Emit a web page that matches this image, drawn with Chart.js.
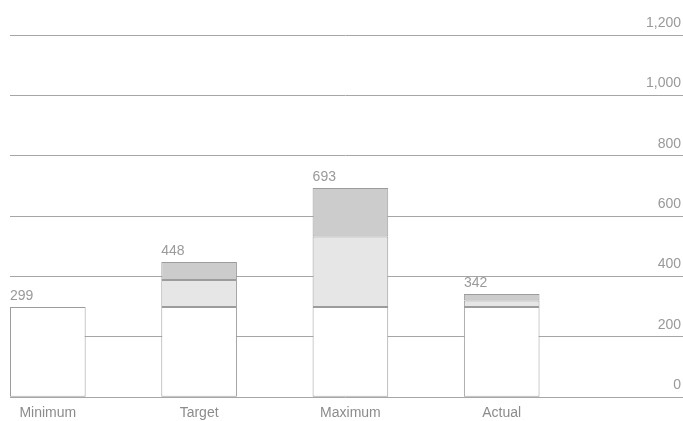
<!DOCTYPE html>
<html>
<head>
<meta charset="utf-8">
<script src="https://cdn.jsdelivr.net/npm/chart.js@4"></script>
<style>
html,body{margin:0;padding:0;background:#fff;}
#wrap{width:683px;height:421px;position:relative;}
</style>
</head>
<body>
<div id="wrap"><canvas id="c" width="683" height="421"></canvas></div>
<script>
const categories = ['Minimum', 'Target', 'Maximum', 'Actual'];
const baseValues = [299, 299, 299, 299];
const midValues = [null, 89, 233, 21];
const topValues = [null, 60, 161, 22];
const yTicks = [0, 200, 400, 600, 800, 1000, 1200];

const FONT = "'Liberation Sans', Helvetica, Arial, sans-serif";
const toPts = arr => arr.map((v, i) => ({x: i, y: v}));
const totals = categories.map((_, i) => (baseValues[i] || 0) + (midValues[i] || 0) + (topValues[i] || 0));

const totalLabels = {
  id: 'totalLabels',
  afterDatasetsDraw(chart) {
    const ctx = chart.ctx;
    const ys = chart.scales.y;
    const meta0 = chart.getDatasetMeta(0);
    ctx.save();
    ctx.font = '14px ' + FONT;
    ctx.fillStyle = '#9a9a9a';
    ctx.textAlign = 'left';
    ctx.textBaseline = 'alphabetic';
    totals.forEach((t, i) => {
      const bar = meta0.data[i];
      const left = bar.x - bar.width / 2;
      ctx.fillText(t.toLocaleString('en-US'), left, ys.getPixelForValue(t) - 7);
    });
    ctx.restore();
  }
};

const common = {borderColor: '#9c9c9c', borderWidth: 1, borderSkipped: false, categoryPercentage: 1, barPercentage: 0.5};

new Chart(document.getElementById('c'), {
  type: 'bar',
  data: {
    datasets: [
      Object.assign({label: 'Base', data: toPts(baseValues), backgroundColor: '#ffffff'}, common),
      Object.assign({label: 'Mid', data: toPts(midValues), backgroundColor: '#e6e6e6'}, common),
      Object.assign({label: 'Top', data: toPts(topValues), backgroundColor: '#cccccc'}, common)
    ]
  },
  options: {
    responsive: false,
    animation: false,
    layout: {padding: {left: 10, top: 35, right: 0, bottom: -9}},
    plugins: {legend: {display: false}, tooltip: {enabled: false}},
    scales: {
      x: {
        type: 'linear',
        stacked: true,
        offset: false,
        bounds: 'data',
        min: -0.25,
        max: 4.185,
        afterBuildTicks(scale) { scale.ticks = categories.map((_, i) => ({value: i})); },
        grid: {display: false, offset: false, drawTicks: false},
        border: {display: false},
        ticks: {
          padding: 8,
          maxRotation: 0,
          autoSkip: false,
          color: '#8c8c8c',
          font: {family: FONT, size: 14},
          callback: v => categories[v] !== undefined ? categories[v] : ''
        }
      },
      y: {
        position: 'right',
        stacked: true,
        min: 0,
        max: 1200,
        afterBuildTicks(scale) { scale.ticks = yTicks.map(v => ({value: v})); },
        grid: {color: '#a6a6a6', lineWidth: 1, drawTicks: true, tickLength: 2},
        border: {display: false},
        ticks: {
          mirror: true,
          padding: 0,
          labelOffset: -12,
          color: '#999999',
          font: {family: FONT, size: 14},
          callback: v => v.toLocaleString('en-US')
        }
      }
    }
  },
  plugins: [totalLabels]
});
</script>
</body>
</html>
